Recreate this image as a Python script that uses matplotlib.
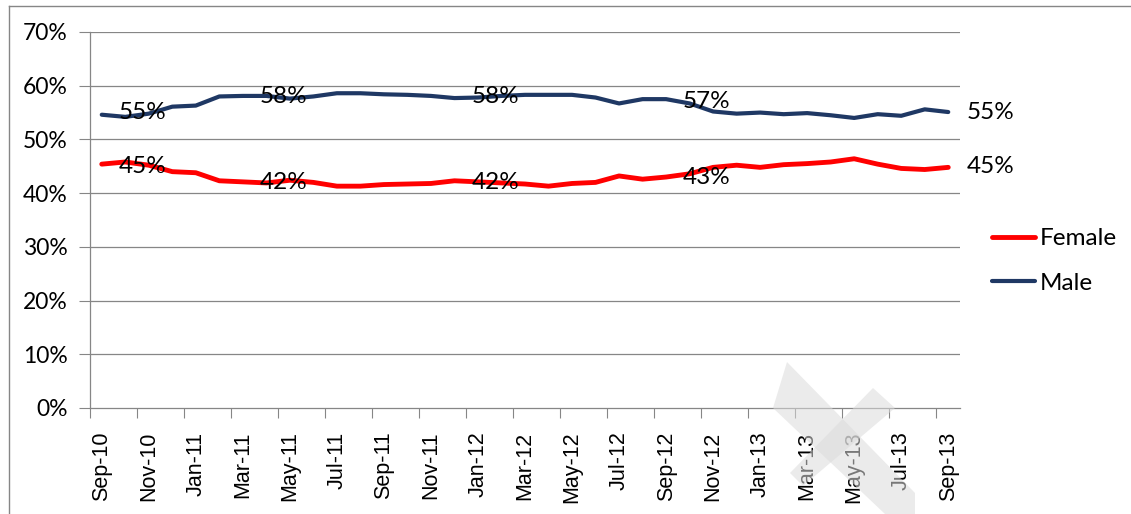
import matplotlib
matplotlib.use("Agg")
import matplotlib.pyplot as plt
from matplotlib.lines import Line2D
from matplotlib.patches import Polygon
from matplotlib.ticker import FixedLocator, FuncFormatter

# ---------------- data ----------------
months = ["Sep-10", "Oct-10", "Nov-10", "Dec-10", "Jan-11", "Feb-11", "Mar-11", "Apr-11",
          "May-11", "Jun-11", "Jul-11", "Aug-11", "Sep-11", "Oct-11", "Nov-11", "Dec-11",
          "Jan-12", "Feb-12", "Mar-12", "Apr-12", "May-12", "Jun-12", "Jul-12", "Aug-12",
          "Sep-12", "Oct-12", "Nov-12", "Dec-12", "Jan-13", "Feb-13", "Mar-13", "Apr-13",
          "May-13", "Jun-13", "Jul-13", "Aug-13", "Sep-13"]

female = [45.4, 45.8, 45.2, 44.0, 43.8, 42.3, 42.1, 41.9, 42.4, 42.0, 41.3, 41.3,
          41.6, 41.7, 41.8, 42.3, 42.1, 41.9, 41.7, 41.3, 41.8, 42.0, 43.2, 42.6,
          43.0, 43.6, 44.8, 45.2, 44.8, 45.3, 45.5, 45.8, 46.4, 45.4, 44.6, 44.4, 44.8]

male = [54.6, 54.2, 54.8, 56.1, 56.3, 58.0, 58.1, 58.1, 57.6, 58.0, 58.6, 58.6,
        58.4, 58.3, 58.1, 57.7, 57.8, 58.1, 58.3, 58.3, 58.3, 57.8, 56.7, 57.5,
        57.5, 56.7, 55.2, 54.8, 55.0, 54.7, 54.9, 54.5, 54.0, 54.7, 54.4, 55.6, 55.1]

label_idx = [2, 8, 17, 26]
male_labels = [55, 58, 58, 57]
female_labels = [45, 42, 42, 43]
end_male_label = 55
end_female_label = 45

yticks = [0, 10, 20, 30, 40, 50, 60, 70]

# ---------------- style ----------------
W, H = 1131, 514
DPI = 100
plt.rcParams['font.family'] = ['Lato', 'DejaVu Sans']
GRID = '#868686'
RED = '#FF0000'
NAVY = '#1F3864'

fig = plt.figure(figsize=(W / DPI, H / DPI), dpi=DPI)
fig.patch.set_facecolor('white')

x0, x1, ytop, ybot = 90, 960, 32, 408
ax = fig.add_axes([x0 / W, 1 - ybot / H, (x1 - x0) / W, (ybot - ytop) / H])
ax.set_facecolor('white')

n = len(months)
xs = list(range(n))

ax.plot(xs, female, color=RED, lw=3.5, solid_capstyle='round', solid_joinstyle='round',
        label='Female', zorder=3)
ax.plot(xs, male, color=NAVY, lw=3.0, solid_capstyle='round', solid_joinstyle='round',
        label='Male', zorder=3)

ax.set_xlim(-0.5, n - 0.5)
ax.set_ylim(0, 70)

# y axis
ax.set_yticks(yticks)
ax.yaxis.set_major_formatter(FuncFormatter(lambda v, p: f"{int(v)}%"))
ax.tick_params(axis='y', length=8, width=0.8, color=GRID, labelsize=16.5, pad=8,
               labelcolor='black')
for yv in yticks[1:]:
    ax.axhline(yv, color=GRID, lw=0.9, zorder=1)

# x axis: tick marks at category boundaries every 2 months, labels at centres
major_pos = [i - 0.5 for i in range(0, n, 2)]
ax.xaxis.set_major_locator(FixedLocator(major_pos))
ax.xaxis.set_major_formatter(FuncFormatter(lambda v, p: ""))
ax.xaxis.set_minor_locator(FixedLocator(list(range(0, n, 2))))
ax.xaxis.set_minor_formatter(FuncFormatter(lambda v, p: months[int(round(v))]))
ax.tick_params(axis='x', which='major', length=7, width=0.8, color=GRID)
ax.tick_params(axis='x', which='minor', length=0, pad=17)
for lab in ax.xaxis.get_minorticklabels():
    lab.set_rotation(90)
    lab.set_fontfamily('Liberation Sans')
    lab.set_fontsize(15.5)
    lab.set_va('top')
    lab.set_ha('center')

for s in ['top', 'right']:
    ax.spines[s].set_visible(False)
ax.spines['left'].set_color(GRID)
ax.spines['left'].set_linewidth(0.9)
ax.spines['bottom'].set_color(GRID)
ax.spines['bottom'].set_linewidth(0.9)

# data labels
for i, mv, fv in zip(label_idx, male_labels, female_labels):
    ax.annotate(f"{mv}%", (i, mv), xytext=(-4.5, 0), textcoords='offset points',
                ha='center', va='center', fontsize=17.5, zorder=5)
    ax.annotate(f"{fv}%", (i, fv), xytext=(-4.5, 0), textcoords='offset points',
                ha='center', va='center', fontsize=17.5, zorder=5)
ax.annotate(f"{end_male_label}%", (n - 1, end_male_label), xytext=(13, 0),
            textcoords='offset points', ha='left', va='center', fontsize=17.5,
            annotation_clip=False)
ax.annotate(f"{end_female_label}%", (n - 1, end_female_label), xytext=(13, 0),
            textcoords='offset points', ha='left', va='center', fontsize=17.5,
            annotation_clip=False)

# legend
leg = ax.legend(loc='center left', bbox_to_anchor=(992 / W, 1 - 261 / H),
                bbox_transform=fig.transFigure, frameon=False, borderpad=0,
                borderaxespad=0, handlelength=1.75, handletextpad=0.2,
                labelspacing=0.95, fontsize=17.5)

# outer chart frame (left and top edges visible)
fig.add_artist(Line2D([8.5 / W, 8.5 / W], [0, 1 - 5.5 / H], transform=fig.transFigure,
                      color=GRID, lw=1.0))
fig.add_artist(Line2D([8.5 / W, 1], [1 - 5.5 / H, 1 - 5.5 / H], transform=fig.transFigure,
                      color=GRID, lw=1.0))

# faint watermark "X" in the lower right
def px(pts):
    return [(x / W, 1 - y / H) for x, y in pts]

wm1 = px([(787, 362), (915, 493), (915, 514), (885, 514), (773, 408)])
wm2 = px([(873, 388), (895, 408), (803, 486), (790, 473)])
for poly in (wm1, wm2):
    fig.add_artist(Polygon(poly, closed=True, transform=fig.transFigure,
                           facecolor=(0.86, 0.86, 0.86), alpha=0.55, edgecolor='none',
                           zorder=10))

fig.savefig('out.png', dpi=DPI, facecolor='white')
